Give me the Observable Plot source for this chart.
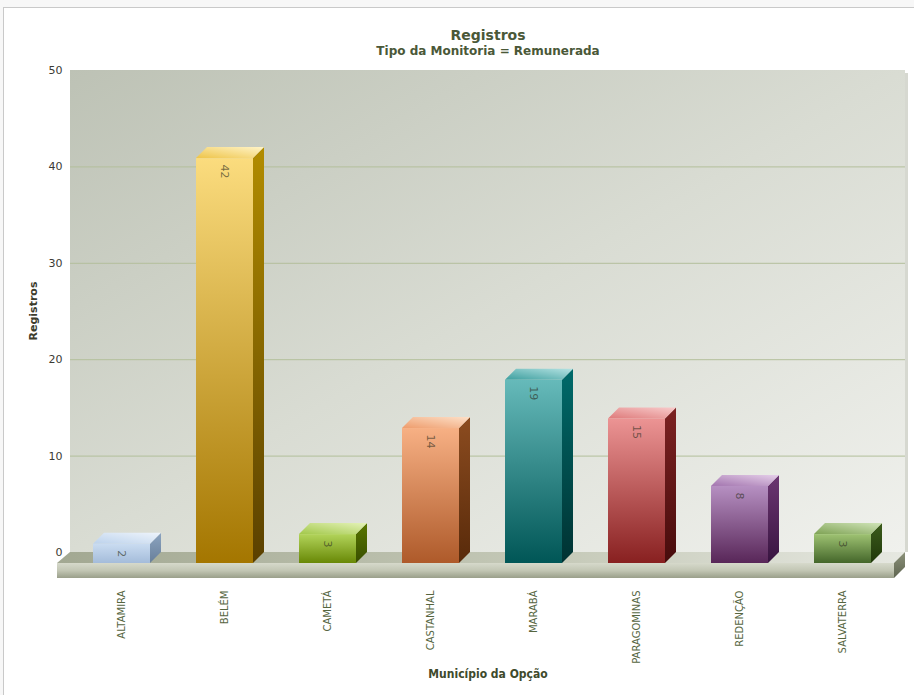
<!DOCTYPE html>
<html><head><meta charset="utf-8">
<script src="https://cdn.jsdelivr.net/npm/d3@7"></script>
<script src="https://cdn.jsdelivr.net/npm/@observablehq/plot@0.6"></script>
<style>
body{margin:0;background:#f7f7f7;width:914px;height:695px;overflow:hidden;position:relative;font-family:"DejaVu Sans",sans-serif;}
#frame{position:absolute;left:3px;top:7px;width:930px;height:700px;background:#fff;border-top:1px solid #c9c9c9;border-left:1px solid #c9c9c9;}
#chart{position:absolute;left:0;top:0;}
</style></head><body><div id="frame"></div><div id="chart"></div>
<script>
const municipios = ["ALTAMIRA","BELÉM","CAMETÁ","CASTANHAL","MARABÁ","PARAGOMINAS","REDENÇÃO","SALVATERRA"];
const registros = [2, 42, 3, 14, 19, 15, 8, 3];
const yTicks = [0, 10, 20, 30, 40, 50];
const title = "Registros";
const subtitle = "Tipo da Monitoria = Remunerada";
const yLabel = "Registros";
const xLabel = "Município da Opção";

const frontTop    = ["#cadcf1","#fbdc7e","#b2d45a","#f7b084","#66baba","#ec9494","#b690c2","#9ec272"];
const frontBottom = ["#a4bcda","#a47600","#688806","#ae5a2a","#005656","#882020","#582658","#44662a"];
const sideTop     = ["#8ca4c0","#b28c00","#587600","#8c4c20","#006a6a","#7c2222","#6c3672","#3c5c1c"];
const sideBottom  = ["#687f9a","#5a4000","#384e00","#582a0a","#003232","#480c0c","#381440","#20380a"];
const topBase     = ["#bcd2ec","#eec448","#a2c84a","#ee9c6c","#3c9e9e","#de7a7a","#a274ae","#7ea254"];
const topLight    = ["#eef4fb","#fff4c8","#e4f2b8","#fde0c8","#b4e2e2","#f8cccc","#e6d0ea","#d0e4b8"];

const D = 11; // 3D depth in px
const data = municipios.map((m, i) => ({m, v: registros[i], i}));

function defs() {
  const g = d3.create("svg:defs");
  const lg = (id, x1, y1, x2, y2, stops) => {
    const e = g.append("linearGradient").attr("id", id)
      .attr("x1", x1).attr("y1", y1).attr("x2", x2).attr("y2", y2);
    stops.forEach(([o, c]) => e.append("stop").attr("offset", o).attr("stop-color", c));
  };
  lg("wallGrad", 0, 0, 1, 1, [[0, "#bdc2b5"], [0.5, "#d9dcd3"], [1, "#f0f1ed"]]);
  lg("floorTop", 0, 0, 1, 0, [[0, "#a2a892"], [0.6, "#c6cab9"], [1, "#e6e8e1"]]);
  lg("floorFront", 0, 0, 0, 1, [[0, "#d6d9cb"], [0.5, "#c2c6b4"], [1, "#9a9f8a"]]);
  lg("floorSide", 0, 0, 0, 1, [[0, "#8c927a"], [1, "#5e6450"]]);
  data.forEach(({i}) => {
    lg("front" + i, 0, 0, 0, 1, [[0, frontTop[i]], [1, frontBottom[i]]]);
    lg("side" + i, 0, 0, 0, 1, [[0, sideTop[i]], [1, sideBottom[i]]]);
    lg("top" + i, 0, 1, 1, 0, [[0, topBase[i]], [1, topLight[i]]]);
  });
  return g.node();
}

function wall(index, {y}, values, {width, marginLeft, marginRight, marginTop}) {
  const g = d3.create("svg:g");
  const left = marginLeft, right = width - marginRight, bottom = y(0) - D;
  g.append("rect").attr("x", right).attr("y", marginTop + 3).attr("width", 3)
    .attr("height", bottom - marginTop - 3).attr("fill", "#d6d8d0");
  g.append("rect").attr("x", left).attr("y", marginTop).attr("width", right - left)
    .attr("height", bottom - marginTop).attr("fill", "url(#wallGrad)");
  return g.node();
}

function floor(index, {y}, values, {width, marginLeft, marginRight}) {
  const g = d3.create("svg:g");
  const bl = marginLeft, br = width - marginRight;
  const fy = y(0), by = fy - D, fl = bl - 13, fr = br - D, th = 15;
  g.append("path").attr("d", `M${bl},${by}L${br},${by}L${fr},${fy}L${fl},${fy}Z`).attr("fill", "url(#floorTop)");
  g.append("rect").attr("x", fl).attr("y", fy).attr("width", fr - fl).attr("height", th).attr("fill", "url(#floorFront)");
  g.append("path").attr("d", `M${fr},${fy}L${br},${by}L${br},${by + th}L${fr},${fy + th}Z`).attr("fill", "url(#floorSide)");
  return g.node();
}

function bars3d(index, {x, y}) {
  const g = d3.create("svg:g");
  const bw = x.bandwidth();
  const y0 = y(0);
  data.forEach(d => {
    const xl = x(d.m), xr = xl + bw, yt = y(d.v);
    g.append("path").attr("d", `M${xr},${yt}L${xr + D},${yt - D}L${xr + D},${y0 - D}L${xr},${y0}Z`).attr("fill", `url(#side${d.i})`);
    g.append("path").attr("d", `M${xl},${yt}L${xl + D},${yt - D}L${xr + D},${yt - D}L${xr},${yt}Z`).attr("fill", `url(#top${d.i})`);
  });
  return g.node();
}

const chart = Plot.plot({
  width: 914,
  height: 695,
  marginLeft: 70,
  marginRight: 9,
  marginTop: 70,
  marginBottom: 132,
  style: {background: "transparent", fontFamily: "DejaVu Sans", overflow: "visible"},
  x: {domain: municipios, range: [68, 895], paddingInner: 0.45, paddingOuter: 0.225, label: null},
  y: {domain: [0, 50], range: [563, 81], label: null},
  color: {type: "identity"},
  marks: [
    defs,
    wall,
    Plot.ruleY(yTicks.filter(t => t > 0 && t < 50), {dy: -D, stroke: "#b3bf9b", strokeWidth: 1}),
    floor,
    bars3d,
    Plot.barY(data, {x: "m", y: "v", fill: d => `url(#front${d.i})`}),
    Plot.text(data, {x: "m", y: "v", text: d => String(d.v), rotate: 90, textAnchor: "start", dy: 6,
      fill: "#2e2e22", fillOpacity: 0.65, fontSize: 11}),
    Plot.axisY(yTicks, {tickSize: 0, tickPadding: 8, dy: -D, fontSize: 11, fill: "#3a3a34", label: null}),
    Plot.axisX({tickSize: 0, tickRotate: -90, tickPadding: 27, fontSize: 10, fill: "#56663f", label: null}),
    Plot.text([title], {frameAnchor: "top", lineAnchor: "middle", dy: -35, fontSize: 14, fontWeight: "bold", fill: "#4a5838"}),
    Plot.text([subtitle], {frameAnchor: "top", lineAnchor: "middle", dy: -19, fontSize: 12, fontWeight: "bold", fill: "#4a5838"}),
    Plot.text([yLabel], {frameAnchor: "left", textAnchor: "middle", rotate: -90, dx: -37, dy: -6, fontSize: 11, fontWeight: "bold", fill: "#3c3c2c"}),
    Plot.text([xLabel], {frameAnchor: "bottom", lineAnchor: "middle", dy: 111, fontSize: 12, fontWeight: "bold",
      fontFamily: "DejaVu Sans Condensed", fill: "#3e4a2c"})
  ]
});
document.getElementById("chart").appendChild(chart);
</script>
</body></html>
